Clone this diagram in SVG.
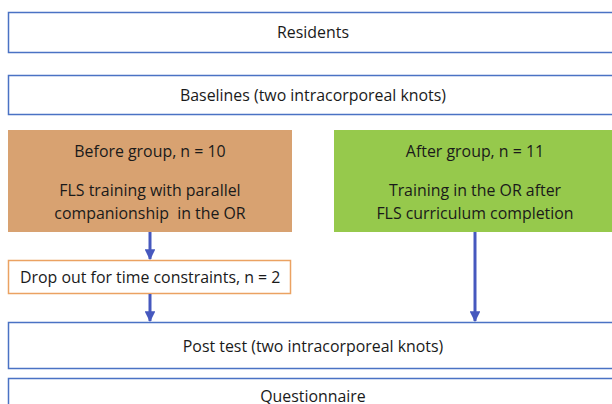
<svg xmlns="http://www.w3.org/2000/svg" width="612" height="404" viewBox="0 0 612 404">
<defs>
<style>
.box{fill:#ffffff;stroke:#4A72C4;stroke-width:1.5}
.t{font-family:"Open Sans","Liberation Sans",sans-serif;font-size:15.9px;fill:#1a1a1a;text-anchor:middle}
.arr{stroke:#4658BE;stroke-width:3;fill:none}
</style>
<marker id="ah" viewBox="0 0 10 10" refX="9" refY="5" markerWidth="3.6" markerHeight="3.6" orient="auto" markerUnits="strokeWidth">
<path d="M0,0 L10,5 L0,10 z" fill="#4658BE"/>
</marker>
</defs>
<rect width="612" height="404" fill="#ffffff"/>
<g id="residents">
<rect class="box" x="8.5" y="12.5" width="610" height="40"/>
<text class="t" x="313" y="38">Residents</text>
</g>
<g id="baselines">
<rect class="box" x="8.5" y="75.5" width="610" height="39"/>
<text class="t" x="313" y="101">Baselines (two intracorporeal knots)</text>
</g>
<g id="before">
<rect x="8" y="130" width="284" height="102" fill="#D8A271"/>
<text class="t" x="150" y="157">Before group, n = 10</text>
<text class="t" x="150" y="196">FLS training with parallel</text>
<text class="t" x="150" y="219" xml:space="preserve">companionship  in the OR</text>
</g>
<g id="after">
<rect x="334" y="130" width="290" height="102" fill="#96C94C"/>
<text class="t" x="475" y="157">After group, n = 11</text>
<text class="t" x="475" y="196">Training in the OR after</text>
<text class="t" x="475" y="219">FLS curriculum completion</text>
</g>
<g id="dropout">
<rect x="8.5" y="260.5" width="282" height="33" fill="#ffffff" stroke="#EBA262" stroke-width="1.5"/>
<text class="t" x="20" y="283" style="text-anchor:start">Drop out for time constraints, n = 2</text>
</g>
<g id="posttest">
<rect class="box" x="8.5" y="322.5" width="610" height="46"/>
<text class="t" x="313" y="352">Post test (two intracorporeal knots)</text>
</g>
<g id="questionnaire">
<rect class="box" x="8.5" y="378.5" width="610" height="40"/>
<text class="t" x="313" y="402">Questionnaire</text>
</g>
<g id="connectors">
<line class="arr" x1="150" y1="232" x2="150" y2="259" marker-end="url(#ah)"/>
<line class="arr" x1="150" y1="294" x2="150" y2="321" marker-end="url(#ah)"/>
<line class="arr" x1="475" y1="232" x2="475" y2="321" marker-end="url(#ah)"/>
</g>
</svg>
